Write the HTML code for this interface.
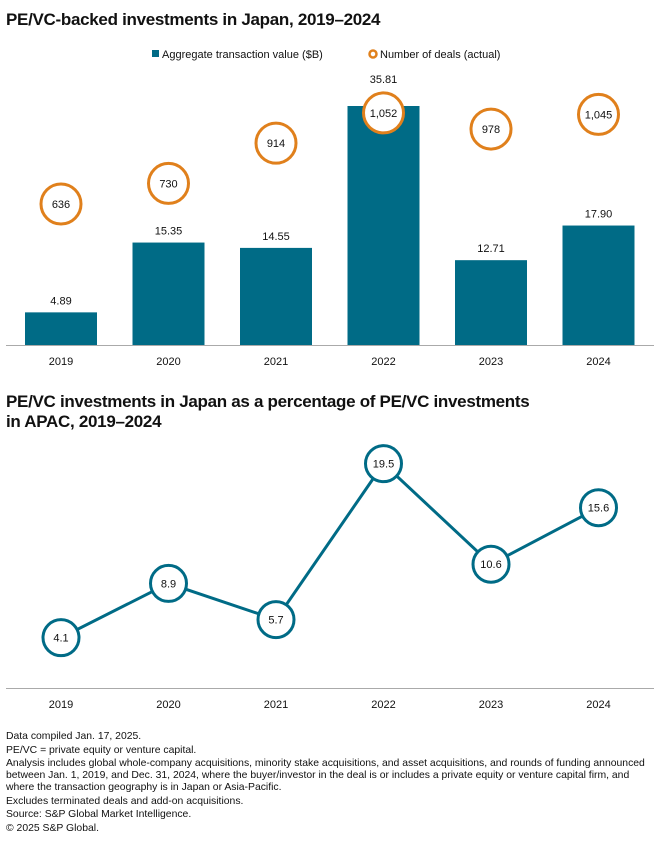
<!DOCTYPE html>
<html><head><meta charset="utf-8"><style>
body{margin:0;background:#fff;font-family:"Liberation Sans",sans-serif;color:#111}
.t{position:absolute;left:6px;font-weight:bold;font-size:17px;letter-spacing:-0.3px;line-height:20px}
.notes{position:absolute;left:6px;top:731px;font-size:10.4px;line-height:12px;width:652px}
.notes div{margin-bottom:1.5px}
</style></head><body>
<div class="t" style="top:10px">PE/VC-backed investments in Japan, 2019–2024</div>
<div class="t" style="top:392px">PE/VC investments in Japan as a percentage of PE/VC investments<br>in APAC, 2019–2024</div>
<svg id="c" width="660" height="854" style="position:absolute;left:0;top:0"></svg>
<div class="notes">
<div>Data compiled Jan. 17, 2025.</div>
<div>PE/VC = private equity or venture capital.</div>
<div>Analysis includes global whole-company acquisitions, minority stake acquisitions, and asset acquisitions, and rounds of funding announced between Jan. 1, 2019, and Dec. 31, 2024, where the buyer/investor in the deal is or includes a private equity or venture capital firm, and where the transaction geography is in Japan or Asia-Pacific.</div>
<div>Excludes terminated deals and add-on acquisitions.</div>
<div>Source: S&amp;P Global Market Intelligence.</div>
<div>© 2025 S&amp;P Global.</div>
</div>
<script>
const years=["2019","2020","2021","2022","2023","2024"];
const values=[4.89,15.35,14.55,35.81,12.71,17.90];
const deals=[636,730,914,1052,978,1045];
const pct=[4.1,8.9,5.7,19.5,10.6,15.6];
const TEAL="#006b86",OR="#e0801c";
const svg=document.getElementById('c');
const NS="http://www.w3.org/2000/svg";
function mk(tag,attrs,parent){const e=document.createElementNS(NS,tag);for(const k in attrs)e.setAttribute(k,attrs[k]);(parent||svg).appendChild(e);return e;}
function txt(x,y,s,size,anchor){const e=mk('text',{x:x,y:y,'font-size':size||11,'text-anchor':anchor||'middle','font-family':'Liberation Sans, sans-serif',fill:'#111'});e.textContent=s;return e;}
const xs=i=>61+i*107.5;
const yBar=v=>345-v*6.674;
const yDeal=d=>204-(d-636)*0.219;
const yPct=v=>684-v*11.3;
let lg=mk('rect',{x:152,y:50,width:7,height:7,fill:TEAL});

let lt=txt(162,58,"Aggregate transaction value ($B)",11,'start');

let lc=mk('circle',{cx:373,cy:54,r:3.5,fill:'#fff',stroke:OR,'stroke-width':2.5});

let lt2=txt(380,58,"Number of deals (actual)",11,'start');

let ax=mk('line',{x1:6,x2:654,y1:345.5,y2:345.5,stroke:'#aaa','stroke-width':1});

years.forEach((y,i)=>{
  const top=yBar(values[i]);
  const b=mk('rect',{x:xs(i)-36,y:top,width:72,height:345-top,fill:TEAL});
  
  const cy=yDeal(deals[i]);
  let ly=top-8;
  if(ly>cy-30 && ly<cy+30) ly=cy-30;
  const vl=txt(xs(i),ly,values[i].toFixed(2),11);
  
  const tl=txt(xs(i),365,y,11);
  
  const c=mk('circle',{cx:xs(i),cy:cy,r:20,fill:'#fff',stroke:OR,'stroke-width':3});
  
  const dl=txt(xs(i),cy+4,deals[i].toLocaleString('en-US'),11);
  
});
let ax2=mk('line',{x1:6,x2:654,y1:688.5,y2:688.5,stroke:'#aaa','stroke-width':1});

const pl=mk('polyline',{points:pct.map((v,i)=>xs(i)+','+yPct(v)).join(' '),fill:'none',stroke:TEAL,'stroke-width':3});

years.forEach((y,i)=>{
  const c=mk('circle',{cx:xs(i),cy:yPct(pct[i]),r:18,fill:'#fff',stroke:TEAL,'stroke-width':3});
  
  const l=txt(xs(i),yPct(pct[i])+4,pct[i].toFixed(1),11);
  
  const tl=txt(xs(i),708,y,11);
  
});
</script>
</body></html>
